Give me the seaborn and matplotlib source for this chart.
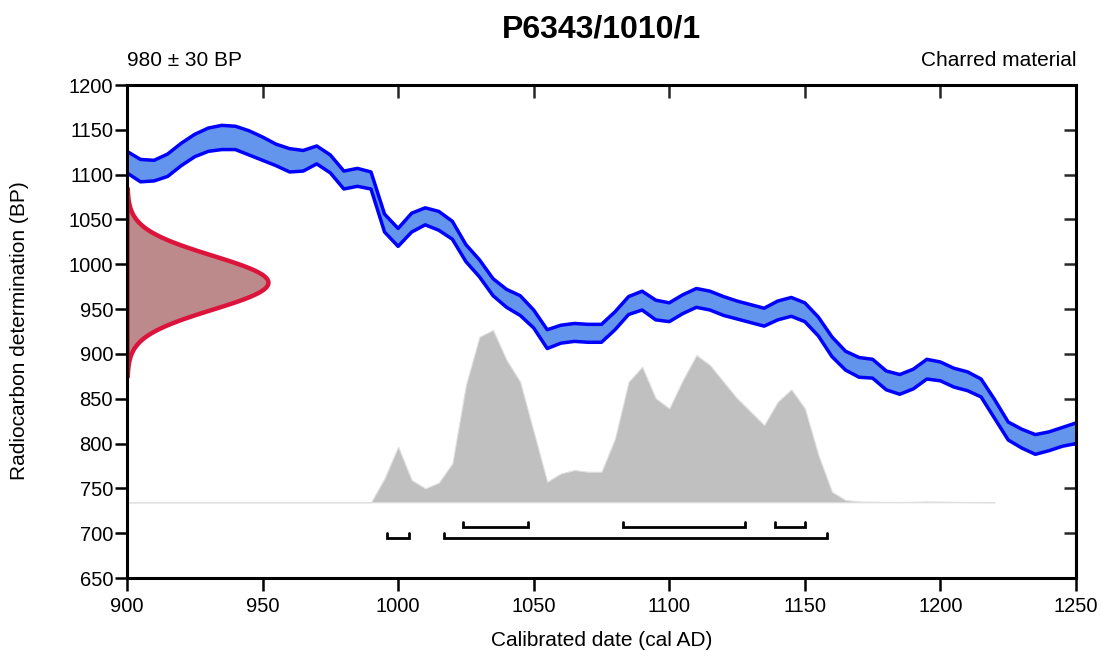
import numpy as np
import matplotlib
matplotlib.use('Agg')
import matplotlib.pyplot as plt
import seaborn as sns

# Calibration curve band (upper / lower edge, BP) every 5 years
curve_years = list(range(900, 1251, 5))
curve_upper = [1126, 1117, 1116, 1123, 1135, 1145, 1152, 1155, 1154, 1149,
               1142, 1134, 1129, 1127, 1132, 1122, 1104, 1107, 1103, 1056,
               1040, 1057, 1063, 1059, 1048, 1022, 1005, 984, 972, 965,
               949, 927, 932, 934, 933, 933, 947, 964, 970, 960,
               957, 966, 973, 970, 964, 959, 955, 951, 959, 963,
               957, 941, 919, 903, 896, 894, 881, 877, 883, 894,
               891, 884, 880, 872, 849, 824, 816, 810, 813, 818,
               823]
curve_lower = [1102, 1092, 1093, 1098, 1110, 1120, 1126, 1128, 1128, 1122,
               1116, 1110, 1103, 1104, 1112, 1102, 1084, 1087, 1084, 1036,
               1020, 1036, 1044, 1038, 1028, 1003, 986, 965, 952, 943,
               929, 906, 912, 914, 913, 913, 927, 944, 949, 938,
               936, 945, 952, 949, 943, 939, 935, 931, 938, 942,
               936, 920, 897, 882, 874, 873, 860, 855, 861, 872,
               870, 863, 859, 852, 828, 804, 795, 788, 792, 797,
               800]

# Measurement
c14_age = 980
c14_err = 30

# Calibrated probability (drawn as height above the baseline, BP units)
prob_years = list(range(900, 1221, 5))
prob_height = [0, 0, 0, 0, 0, 0, 0, 0, 0, 0,
               0, 0, 0, 0, 0, 0, 0, 0, 0, 26.8,
               62, 24.9, 15.5, 21.9, 43.4, 130.8, 184.7, 192.2, 158.7, 134.5,
               78.7, 22.9, 32.2, 36, 34.1, 34.1, 71.3, 134.5, 151.3, 116,
               104.8, 136.4, 164.3, 153.1, 134.5, 116, 101.1, 86.2, 112.2, 126,
               104.8, 52.7, 11.7, 2.5, 1.0, 0.6, 0.4, 0.3, 0.6, 1.0,
               0.8, 0.5, 0.3, 0.2, 0]
prob_base = 734.5

# Highest probability ranges
ranges_68 = [(1024, 1048), (1083, 1128), (1139, 1150)]
ranges_95 = [(996, 1004), (1017, 1158)]

sns.set_style('white')
plt.rcParams['font.family'] = ['Liberation Sans', 'DejaVu Sans']
plt.rcParams['text.color'] = 'black'
plt.rcParams['axes.labelcolor'] = 'black'

fig = plt.figure(figsize=(11.01, 6.51), dpi=100)
ax = fig.add_axes([0.1153, 0.1121, 0.8620, 0.7573])

# gray calibrated distribution
py = np.array(prob_years)
ph = np.array(prob_height)
ax.fill_between(py, prob_base, prob_base + ph, facecolor='#c0c0c0',
                edgecolor='#e0e0e0', linewidth=0.8, zorder=1)

# calibration curve band
ax.fill_between(curve_years, curve_lower, curve_upper, facecolor='#6495ed',
                edgecolor='none', zorder=2)
sns.lineplot(x=curve_years, y=curve_upper, color='#0000ff', linewidth=2.5, ax=ax, zorder=3)
sns.lineplot(x=curve_years, y=curve_lower, color='#0000ff', linewidth=2.5, ax=ax, zorder=3)
ax.plot([1250, 1250], [650, curve_lower[-1]], color='#000080', linewidth=1.5, zorder=3)

# measurement distribution on the y axis
yy = np.linspace(c14_age - 3.5 * c14_err, c14_age + 3.5 * c14_err, 300)
dens = np.exp(-0.5 * ((yy - c14_age) / c14_err) ** 2)
ax.fill_betweenx(yy, 900, 900 + 52 * dens, facecolor='#bc8a8a',
                 edgecolor='#dc143c', linewidth=3.2, zorder=4)

# range bars
def draw_ranges(ranges, y, h=5.5):
    for a, b in ranges:
        ax.plot([a, a, b, b], [y + h, y, y, y + h], color='black',
                linewidth=2, solid_joinstyle='miter', zorder=5)

draw_ranges(ranges_68, 706.5)
draw_ranges(ranges_95, 695)

ax.set_xlim(900, 1250)
ax.set_ylim(650, 1200)
ax.set_xticks(range(900, 1251, 50))
ax.set_yticks(range(650, 1201, 50))
ax.tick_params(axis='both', direction='out', length=9, width=1.8,
               labelsize=14.5, colors='black', bottom=True, left=True)
ax.tick_params(axis='x', pad=5)
ax.tick_params(axis='y', pad=1)

# inward ticks on top and right
top = ax.secondary_xaxis('top')
top.set_xticks(range(900, 1251, 50))
top.tick_params(direction='in', length=9, width=1.8, top=True, labeltop=False)
right = ax.secondary_yaxis('right')
right.set_yticks(range(650, 1201, 50))
right.tick_params(direction='in', length=9, width=1.8, right=True, labelright=False)
for a in (top, right):
    for sp in a.spines.values():
        sp.set_visible(False)

for sp in ax.spines.values():
    sp.set_linewidth(2.2)
    sp.set_color('black')
    sp.set_zorder(6)

fig.text(20 / 1101, 1 - 331 / 651, 'Radiocarbon determination (BP)', rotation=90,
         ha='center', va='center', fontsize=15)
fig.text(601.5 / 1101, 1 - 641 / 651, 'Calibrated date (cal AD)', ha='center', va='center', fontsize=15)
fig.text(601.5 / 1101, 1 - 29 / 651, 'P6343/1010/1', ha='center', va='center',
         fontsize=23, fontweight='bold')
ax.text(0.0, 1.05, '980 ± 30 BP', transform=ax.transAxes, ha='left', va='center', fontsize=15)
ax.text(1.0, 1.05, 'Charred material', transform=ax.transAxes, ha='right', va='center', fontsize=15)

fig.savefig('out.png', dpi=100)
